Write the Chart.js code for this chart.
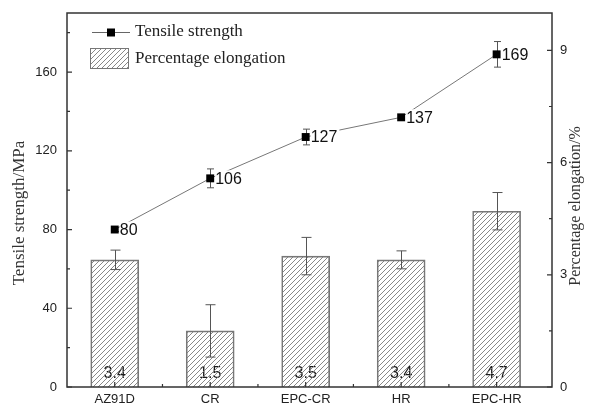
<!DOCTYPE html>
<html>
<head>
<meta charset="utf-8">
<script src="https://cdn.jsdelivr.net/npm/chart.js@4/dist/chart.umd.min.js"></script>
<style>
html,body{margin:0;padding:0;background:#fff;}
canvas{display:block;background:#fff;}
</style>
</head>
<body>
<canvas id="c" width="589" height="407"></canvas>
<script>
const categories = ['AZ91D', 'CR', 'EPC-CR', 'HR', 'EPC-HR'];
const tensileStrength = [80, 106, 127, 137, 169];
const tensileError = [1, 4.8, 4, 1, 6.5];
const elongation = [3.4, 1.5, 3.5, 3.4, 4.7];
const elongationError = [0.26, 0.7, 0.5, 0.24, 0.5];
const leftTicks = [0, 40, 80, 120, 160];
const leftMinorTicks = [20, 60, 100, 140, 180];
const rightTicks = [0, 3, 6, 9];
const rightMinorTicks = [1.5, 4.5, 7.5];
const xMinorTicks = [1.5, 2.5, 3.5, 4.5];
const seriesNames = ['Tensile strength', 'Percentage elongation'];
const axisTitles = ['Tensile strength/MPa', 'Percentage elongation/%'];

const SANS = '"Liberation Sans", Arial, sans-serif';
const SERIF = '"Liberation Serif", "Times New Roman", serif';

function makeHatch() {
  const p = 5;
  const c = document.createElement('canvas');
  c.width = p; c.height = p;
  const g = c.getContext('2d');
  g.strokeStyle = '#7a7a7a';
  g.lineWidth = 0.9;
  g.beginPath();
  g.moveTo(-1, p + 1); g.lineTo(p + 1, -1);
  g.moveTo(-1, 1); g.lineTo(1, -1);
  g.moveTo(p - 1, p + 1); g.lineTo(p + 1, p - 1);
  g.stroke();
  return document.getElementById('c').getContext('2d').createPattern(c, 'repeat');
}
const hatch = makeHatch();

const decor = {
  id: 'decor',
  beforeDatasetDraw(chart, args) {
    if (args.index !== 0) return;
    const ctx = chart.ctx;
    const meta = chart.getDatasetMeta(0);
    ctx.save();
    ctx.fillStyle = '#1a1a1a';
    ctx.font = '16px ' + SANS;
    ctx.textAlign = 'center';
    ctx.textBaseline = 'middle';
    meta.data.forEach((bar, i) => {
      ctx.fillText(elongation[i].toFixed(1), bar.x, chart.chartArea.bottom - 13);
    });
    ctx.restore();
  },
  afterDatasetDraw(chart, args) {
    if (args.index !== 0) return;
    const ctx = chart.ctx;
    const xs = chart.scales.x, y = chart.scales.y, y1 = chart.scales.y1;
    ctx.save();
    ctx.strokeStyle = '#555';
    ctx.lineWidth = 1;
    function eb(x, top, bot, cap) {
      ctx.beginPath();
      ctx.moveTo(x, top); ctx.lineTo(x, bot);
      ctx.moveTo(x - cap, top); ctx.lineTo(x + cap, top);
      ctx.moveTo(x - cap, bot); ctx.lineTo(x + cap, bot);
      ctx.stroke();
    }
    categories.forEach((c, i) => {
      const x = Math.round(xs.getPixelForValue(i + 1)) + 0.5;
      eb(x, y1.getPixelForValue(elongation[i] + elongationError[i]), y1.getPixelForValue(elongation[i] - elongationError[i]), 5);
      eb(x, y.getPixelForValue(tensileStrength[i] + tensileError[i]), y.getPixelForValue(tensileStrength[i] - tensileError[i]), 3.5);
    });
    ctx.restore();
  },
  afterDraw(chart) {
    const ctx = chart.ctx;
    const a = chart.chartArea;
    const xs = chart.scales.x, y = chart.scales.y, y1 = chart.scales.y1;
    ctx.save();
    // point labels with white backing that masks the line
    ctx.font = '16px ' + SANS;
    ctx.textAlign = 'left';
    ctx.textBaseline = 'middle';
    tensileStrength.forEach((v, i) => {
      const px = xs.getPixelForValue(i + 1) + 5;
      const py = y.getPixelForValue(v) + 1;
      const w = ctx.measureText(String(v)).width;
      ctx.fillStyle = '#fff';
      ctx.fillRect(px, py - 9, w + 2, 17);
      ctx.fillStyle = '#111';
      ctx.fillText(String(v), px, py);
    });
    // frame
    ctx.strokeStyle = '#333';
    ctx.lineWidth = 1.5;
    ctx.strokeRect(a.left, a.top, a.right - a.left, a.bottom - a.top);
    ctx.lineWidth = 1.2;
    ctx.beginPath();
    leftTicks.forEach(v => { const p = y.getPixelForValue(v); ctx.moveTo(a.left, p); ctx.lineTo(a.left + 5, p); });
    leftMinorTicks.forEach(v => { const p = y.getPixelForValue(v); ctx.moveTo(a.left, p); ctx.lineTo(a.left + 3, p); });
    rightTicks.forEach(v => { const p = y1.getPixelForValue(v); ctx.moveTo(a.right, p); ctx.lineTo(a.right - 5, p); });
    rightMinorTicks.forEach(v => { const p = y1.getPixelForValue(v); ctx.moveTo(a.right, p); ctx.lineTo(a.right - 3, p); });
    categories.forEach((c, i) => { const p = xs.getPixelForValue(i + 1); ctx.moveTo(p, a.bottom); ctx.lineTo(p, a.bottom - 5); });
    xMinorTicks.forEach(v => { const p = xs.getPixelForValue(v); ctx.moveTo(p, a.bottom); ctx.lineTo(p, a.bottom - 3); });
    ctx.stroke();
    // tick labels
    ctx.fillStyle = '#222';
    ctx.font = '13px ' + SANS;
    ctx.textAlign = 'right';
    ctx.textBaseline = 'middle';
    leftTicks.forEach(v => ctx.fillText(String(v), a.left - 10, y.getPixelForValue(v)));
    ctx.textAlign = 'left';
    rightTicks.forEach(v => ctx.fillText(String(v), a.right + 8, y1.getPixelForValue(v)));
    ctx.textAlign = 'center';
    ctx.textBaseline = 'top';
    categories.forEach((c, i) => ctx.fillText(c, xs.getPixelForValue(i + 1), a.bottom + 6));
    // axis titles
    ctx.fillStyle = '#333';
    ctx.textBaseline = 'middle';
    ctx.font = '17px ' + SERIF;
    ctx.save(); ctx.translate(20, 213); ctx.rotate(-Math.PI / 2); ctx.fillText(axisTitles[0], 0, 0); ctx.restore();
    ctx.font = '16px ' + SERIF;
    ctx.save(); ctx.translate(576, 206); ctx.rotate(-Math.PI / 2); ctx.fillText(axisTitles[1], 0, 0); ctx.restore();
    // legend
    ctx.strokeStyle = '#666';
    ctx.lineWidth = 1;
    ctx.beginPath(); ctx.moveTo(92, 32.5); ctx.lineTo(130, 32.5); ctx.stroke();
    ctx.fillStyle = '#000';
    ctx.fillRect(107, 28.5, 8, 8);
    ctx.fillStyle = hatch;
    ctx.fillRect(90.5, 48.5, 38, 20);
    ctx.strokeStyle = '#777';
    ctx.strokeRect(90.5, 48.5, 38, 20);
    ctx.fillStyle = '#222';
    ctx.font = '17px ' + SERIF;
    ctx.textAlign = 'left';
    ctx.textBaseline = 'middle';
    ctx.fillText(seriesNames[0], 135, 32);
    ctx.fillText(seriesNames[1], 135, 59);
    ctx.restore();
  }
};

new Chart(document.getElementById('c'), {
  type: 'bar',
  data: {
    datasets: [
      {
        type: 'bar',
        label: seriesNames[1],
        data: elongation.map((v, i) => ({ x: i + 1, y: v })),
        yAxisID: 'y1',
        backgroundColor: hatch,
        borderColor: '#777',
        borderWidth: 1,
        borderSkipped: 'start',
        barThickness: 48,
        order: 2
      },
      {
        type: 'line',
        label: seriesNames[0],
        data: tensileStrength.map((v, i) => ({ x: i + 1, y: v })),
        yAxisID: 'y',
        borderColor: '#777',
        borderWidth: 1,
        pointStyle: 'rect',
        pointRadius: 5.6,
        pointBackgroundColor: '#000',
        pointBorderColor: '#000',
        pointBorderWidth: 0,
        tension: 0,
        order: 1
      }
    ]
  },
  options: {
    responsive: false,
    animation: false,
    events: [],
    layout: { padding: { left: 67, right: 37, top: 13, bottom: 20 } },
    plugins: { legend: { display: false }, tooltip: { enabled: false } },
    scales: {
      x: { type: 'linear', min: 0.5, max: 5.58, display: false, offset: false },
      y: { type: 'linear', position: 'left', min: 0, max: 190, display: false },
      y1: { type: 'linear', position: 'right', min: 0, max: 10, display: false }
    }
  },
  plugins: [decor]
});
</script>
</body>
</html>
